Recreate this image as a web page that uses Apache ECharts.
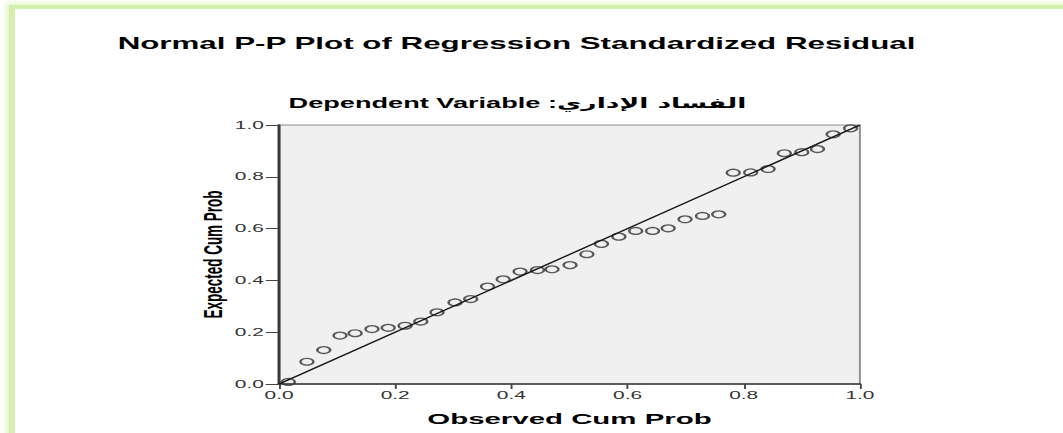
<!DOCTYPE html>
<html>
<head>
<meta charset="utf-8">
<script src="https://cdn.jsdelivr.net/npm/echarts@6/dist/echarts.min.js"></script>
<style>
  html, body { margin: 0; padding: 0; background: #fff; overflow: hidden; }
  #frame {
    position: absolute; left: 9px; top: 5px; width: 1200px; height: 600px;
    border-left: 6px solid #d6efac; border-top: 4px solid #d6efac;
    box-shadow: -3px -2px 5px #e4f5c8;
  }
  /* the SPSS picture is stretched sideways, so the chart is drawn narrow and widened */
  #chart {
    position: absolute; left: 0; top: 0; width: 560px; height: 433px;
    transform: scaleX(1.8982); transform-origin: 0 0;
  }
</style>
</head>
<body>
<div id="frame"></div>
<div id="chart"></div>
<script>
const titleText = 'Normal P-P Plot of Regression Standardized Residual'
const subtitleLabel = 'Dependent Variable :'
const subtitleVar = 'الفساد الإداري'
const xName = 'Observed Cum Prob'
const yName = 'Expected Cum Prob'
const axisTicks = [0, 0.2, 0.4, 0.6, 0.8, 1.0]

const observed = [0.016, 0.048, 0.077, 0.105, 0.131, 0.160, 0.188, 0.217, 0.244, 0.272,
  0.303, 0.330, 0.359, 0.386, 0.415, 0.445, 0.470, 0.501, 0.530, 0.555,
  0.585, 0.614, 0.643, 0.670, 0.699, 0.729, 0.757, 0.782, 0.812, 0.842,
  0.870, 0.900, 0.927, 0.954, 0.984]
const expected = [0.008, 0.086, 0.131, 0.187, 0.196, 0.212, 0.217, 0.225, 0.241, 0.277,
  0.315, 0.328, 0.376, 0.404, 0.434, 0.440, 0.443, 0.459, 0.501, 0.541,
  0.569, 0.591, 0.591, 0.601, 0.636, 0.649, 0.655, 0.816, 0.817, 0.830,
  0.891, 0.895, 0.907, 0.964, 0.987]
const refLine = [[0, 0], [1, 1]]

const font = 'Liberation Sans, Arial, DejaVu Sans, sans-serif'

const axisCommon = (name, isX) => ({
  type: 'value',
  min: axisTicks[0],
  max: axisTicks[axisTicks.length - 1],
  interval: axisTicks[1] - axisTicks[0],
  name,
  nameLocation: 'middle',
  nameGap: isX ? 27 : 28,
  nameMoveOverlap: false,
  nameTextStyle: { fontFamily: font, fontWeight: 'bold', fontSize: isX ? 15.5 : 13.5, color: '#000' },
  axisLine: { show: true, lineStyle: { color: '#3a3a3a', width: 1.6 } },
  axisTick: { show: true, length: isX ? 5 : 7, lineStyle: { color: '#444', width: 1 } },
  axisLabel: {
    margin: isX ? 6 : 8,
    fontFamily: font,
    fontSize: 11,
    color: '#333',
    formatter: (v) => v.toFixed(1)
  },
  splitLine: { show: false }
})

const chart = echarts.init(document.getElementById('chart'), null, { renderer: 'svg' })
chart.setOption({
  animation: false,
  graphic: [
    {
      type: 'text', x: 272.1, y: 43,
      style: { text: titleText, align: 'center', verticalAlign: 'middle', font: 'bold 16.5px ' + font, fill: '#000' }
    },
    {
      type: 'text', x: 272.6, y: 103,
      style: {
        text: `{a|${subtitleLabel}}{b|${subtitleVar}}`,
        align: 'center',
        verticalAlign: 'middle',
        rich: {
          a: { fontFamily: font, fontWeight: 'bold', fontSize: 14.3, color: '#000' },
          b: { fontFamily: 'DejaVu Sans, sans-serif', fontWeight: 'bold', fontSize: 14, color: '#000' }
        }
      }
    }
  ],
  grid: {
    left: 147, right: 107, top: 125, bottom: 49,
    show: true, backgroundColor: '#f0f0f0', borderColor: '#8c8c8c', borderWidth: 1
  },
  xAxis: axisCommon(xName, true),
  yAxis: axisCommon(yName, false),
  series: [
    {
      type: 'line',
      data: refLine,
      symbol: 'none',
      lineStyle: { color: '#1a1a1a', width: 1.2 },
      silent: true
    },
    {
      type: 'scatter',
      data: observed.map((x, i) => [x, expected[i]]),
      symbol: 'circle',
      symbolSize: 6.8,
      itemStyle: { color: 'rgba(0,0,0,0)', borderColor: '#333', borderWidth: 1.3 }
    }
  ]
})
</script>
</body>
</html>
